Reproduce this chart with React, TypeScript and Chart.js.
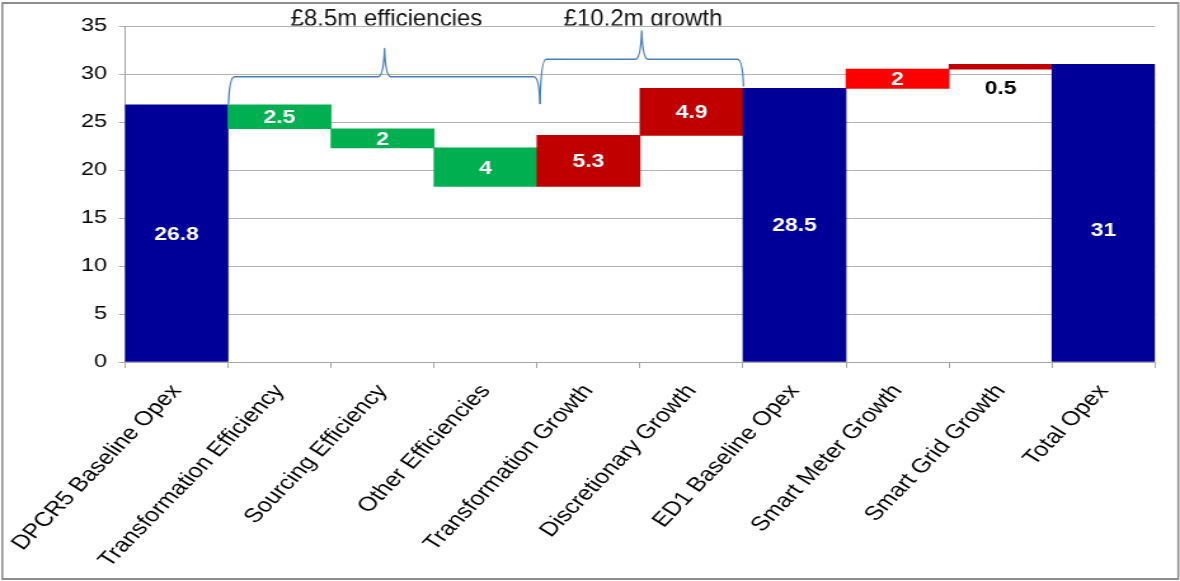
import { useEffect, useRef } from 'react';
import { Chart, registerables } from 'chart.js';

Chart.register(...registerables);

// ---------- data ----------
const categories = [
  'DPCR5 Baseline Opex',
  'Transformation Efficiency',
  'Sourcing Efficiency',
  'Other Efficiencies',
  'Transformation Growth',
  'Discretionary Growth',
  'ED1 Baseline Opex',
  'Smart Meter Growth',
  'Smart Grid Growth',
  'Total Opex',
];
const barLows = [0, 24.3, 22.3, 18.3, 18.3, 23.6, 0, 28.5, 30.5, 0];
const barHighs = [26.8, 26.8, 24.3, 22.3, 23.6, 28.5, 28.5, 30.5, 31, 31];
const barLabels = ['26.8', '2.5', '2', '4', '5.3', '4.9', '28.5', '2', '0.5', '31'];
const braceTitles = ['£8.5m efficiencies', '£10.2m growth'];

// ---------- styles ----------
const barColors = ['#000099', '#00B050', '#00B050', '#00B050', '#C00000', '#C00000', '#000099', '#FF0000', '#C00000', '#000099'];
const labelColors = ['#fff', '#fff', '#fff', '#fff', '#fff', '#fff', '#fff', '#fff', '#000', '#fff'];
const labelBelow = [false, false, false, false, false, false, false, false, true, false];
const labelDy = [1.5, 1.5, 1.5, 1.5, 1.5, 1.5, 1.5, 1.5, 0, 18];

const FONT = '"Liberation Sans", Arial, "DejaVu Sans", sans-serif';
const W = 1180;
const H = 581;
const CW = 929; // internal canvas width, stretched horizontally to W
const S = W / CW;

// brace geometry in final (screen) pixels
const braces = [
  { x0: 228.5, x1: 540, xm: 384.5, yTip0: 103.5, yTip1: 103.5, yH: 76.7, yPeak: 48.5, tx: 386.5 },
  { x0: 540, x1: 743.5, xm: 641.7, yTip0: 103.5, yTip1: 86, yH: 59.3, yPeak: 31, tx: 643 },
];

const overlayPlugin = {
  id: 'overlay',
  afterDatasetsDraw(chart: any) {
    const ctx = chart.ctx as CanvasRenderingContext2D;
    const meta = chart.getDatasetMeta(0);
    meta.data.forEach((bar: any, i: number) => {
      const p = bar.getProps(['x', 'y', 'base', 'width'], true);
      const top = Math.min(p.y, p.base);
      const bottom = Math.max(p.y, p.base);
      ctx.save();
      ctx.font = `bold 18px ${FONT}`;
      ctx.textAlign = 'center';
      ctx.textBaseline = 'middle';
      ctx.fillStyle = labelColors[i];
      if (labelBelow[i]) {
        ctx.fillText(barLabels[i], p.x, bottom + 20 + labelDy[i]);
      } else {
        ctx.beginPath();
        ctx.rect(p.x - p.width / 2, top, p.width, bottom - top);
        ctx.clip();
        ctx.fillText(barLabels[i], p.x, (top + bottom) / 2 + labelDy[i]);
      }
      ctx.restore();
    });
  },
  afterDraw(chart: any) {
    const ctx = chart.ctx as CanvasRenderingContext2D;
    ctx.save();
    ctx.scale(1 / S, 1);

    // braces
    ctx.strokeStyle = '#4A7EBB';
    ctx.lineWidth = 1.6;
    ctx.lineJoin = 'round';
    ctx.lineCap = 'round';
    braces.forEach((b) => {
      const r = 6;
      ctx.beginPath();
      ctx.moveTo(b.x0, b.yTip0);
      ctx.quadraticCurveTo(b.x0 + 1, b.yH, b.x0 + r, b.yH);
      ctx.lineTo(b.xm - r, b.yH);
      ctx.quadraticCurveTo(b.xm - 1, b.yH - 1, b.xm, b.yPeak);
      ctx.quadraticCurveTo(b.xm + 1, b.yH - 1, b.xm + r, b.yH);
      ctx.lineTo(b.x1 - r, b.yH);
      ctx.quadraticCurveTo(b.x1 - 1, b.yH, b.x1, b.yTip1);
      ctx.stroke();
    });

    // titles (clipped at the top gridline)
    ctx.save();
    ctx.beginPath();
    ctx.rect(0, 0, W, 25.6);
    ctx.clip();
    ctx.fillStyle = '#111';
    ctx.font = `24px ${FONT}`;
    ctx.textAlign = 'center';
    ctx.textBaseline = 'alphabetic';
    braces.forEach((b, i) => ctx.fillText(braceTitles[i], b.tx, 25.8));
    ctx.restore();

    // outer frame
    ctx.strokeStyle = '#8c8c8c';
    ctx.lineWidth = 2;
    ctx.strokeRect(2.3, 3, 1176, 576);
    ctx.restore();
  },
};

export default function App() {
  const ref = useRef<HTMLCanvasElement>(null);

  useEffect(() => {
    const chart = new Chart(ref.current as HTMLCanvasElement, {
      type: 'bar',
      data: {
        labels: categories,
        datasets: [
          {
            data: barLows.map((lo, i) => [lo, barHighs[i]]) as any,
            backgroundColor: barColors,
            borderWidth: 0,
            barPercentage: 1,
            categoryPercentage: 1,
          },
        ],
      },
      options: {
        animation: false,
        responsive: true,
        maintainAspectRatio: false,
        devicePixelRatio: 1,
        layout: { padding: { top: 26, right: CW - 1155 / S, left: 0, bottom: 0 } },
        plugins: {
          legend: { display: false },
          tooltip: { enabled: false },
          title: { display: false },
        },
        scales: {
          x: {
            type: 'category',
            offset: true,
            grid: { offset: true, drawOnChartArea: false, drawTicks: true, tickLength: 6, color: '#a6a6a6' },
            border: { color: '#a6a6a6' },
            ticks: {
              autoSkip: false,
              minRotation: 52,
              maxRotation: 52,
              padding: 12,
              color: '#000',
              font: { family: FONT, size: 20 },
            },
            afterFit: (s: any) => {
              s.height = H - 362;
              s.paddingLeft = 0;
              s.paddingRight = 0;
            },
          },
          y: {
            min: 0,
            max: 35,
            ticks: { stepSize: 5, padding: 9, color: '#000', font: { family: FONT, size: 18.5 } },
            grid: { color: '#b4b4b4', tickLength: 5 },
            border: { color: '#a6a6a6' },
            afterFit: (s: any) => {
              s.width = 125 / S;
              s.paddingTop = 0;
              s.paddingBottom = 0;
            },
          },
        },
      },
      plugins: [overlayPlugin],
    });
    return () => chart.destroy();
  }, []);

  return (
    <div style={{ position: 'absolute', left: 0, top: 0, width: W, height: H, overflow: 'hidden', background: '#fff' }}>
      <div
        style={{
          position: 'absolute',
          left: 0,
          top: 0,
          width: CW,
          height: H,
          transform: `scaleX(${S})`,
          transformOrigin: '0 0',
        }}
      >
        <canvas ref={ref} />
      </div>
    </div>
  );
}
